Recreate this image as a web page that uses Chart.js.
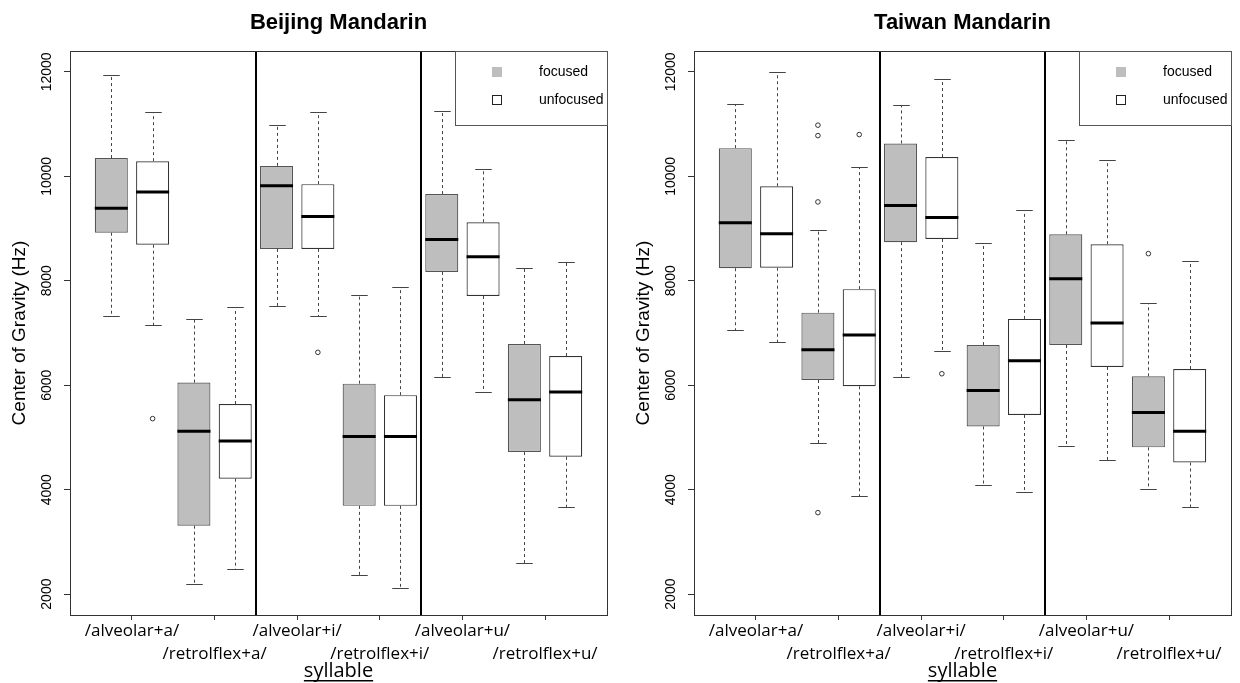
<!DOCTYPE html>
<html>
<head>
<meta charset="utf-8">
<script src="https://cdn.jsdelivr.net/npm/chart.js@4.4.1/dist/chart.umd.min.js"></script>
<style>
  html, body { margin: 0; padding: 0; background: #fff; }
  #wrap { position: relative; width: 1240px; height: 683px; }
  canvas { position: absolute; top: 0; }
</style>
</head>
<body>
<div id="wrap">
  <canvas id="bjChart" width="620" height="683" style="left:0"></canvas>
  <canvas id="twChart" width="620" height="683" style="left:620px"></canvas>
</div>
<script>
// categories
const syllables = ['/alveolar+a/', '/retrolflex+a/', '/alveolar+i/', '/retrolflex+i/', '/alveolar+u/', '/retrolflex+u/'];
const conditions = ['focused', 'unfocused'];
const yTicks = [2000, 4000, 6000, 8000, 10000, 12000];

// Beijing Mandarin, box order: syllable 1 focused, syllable 1 unfocused, syllable 2 focused ...
const bjLow  = [7320, 7150, 2200, 2480, 7520, 7330, 2360, 2110, 6160, 5870, 2600, 3670];
const bjQ1   = [8920, 8690, 3310, 4210, 8610, 8610, 3690, 3690, 8170, 7710, 4720, 4630];
const bjMed  = [9390, 9700, 5120, 4930, 9820, 9230, 5020, 5020, 8790, 8460, 5720, 5870];
const bjQ3   = [10350, 10290, 6050, 5640, 10200, 9850, 6030, 5810, 9660, 9120, 6790, 6560];
const bjHigh = [11940, 11240, 7270, 7500, 10980, 11240, 7720, 7890, 11260, 10150, 8240, 8360];
const bjOut  = [[], [5360], [], [], [], [6630], [], [], [], [], [], []];

// Taiwan Mandarin
const twLow  = [7050, 6820, 4890, 3880, 6150, 6660, 4080, 3950, 4830, 4570, 4010, 3670];
const twQ1   = [8240, 8250, 6100, 5980, 8740, 8800, 5210, 5430, 6770, 6350, 4810, 4520];
const twMed  = [9110, 8900, 6680, 6960, 9440, 9210, 5900, 6470, 8040, 7190, 5480, 5120];
const twQ3   = [10540, 9810, 7390, 7840, 10630, 10370, 6770, 7270, 8890, 8700, 6170, 6310];
const twHigh = [11390, 11990, 8980, 10180, 11370, 11870, 8730, 9350, 10700, 10320, 7580, 8380];
const twOut  = [[], [], [10980, 10780, 9510, 3560], [10800], [], [6220], [], [], [], [], [8520], []];

const FOCUS_FILL = '#bebebe';
const LINE = '#444444';
const ARIAL = "'Liberation Sans', Arial, sans-serif";
const LABEL_FONT = "'Open Sans', 'Noto Sans', sans-serif";

// box i sits at x = i + 1 (two boxes per syllable)
const boxPos = syllables.flatMap((s, si) => conditions.map((c, ci) => si * 2 + ci + 1));
const labelPos = syllables.map((s, si) => si * 2 + 1.5);
// vertical separators between vowel groups (/a/, /i/, /u/), four boxes each
const groupBreaks = [1, 2].map(g => g * 4 + 0.5);

const boxPlugin = {
    id: 'boxDetails',
    afterDatasetsDraw(chart, args, opts) {
        const { ctx } = chart;
        const x = chart.scales.x, y = chart.scales.y;
        const s = opts.stats;
        ctx.save();
        boxPos.forEach((p, i) => {
            const bar = chart.getDatasetMeta(i % 2).data[Math.floor(i / 2)];
            const w = bar.width;
            const cx = Math.round(x.getPixelForValue(p)) + 0.5;
            const yLow = Math.round(y.getPixelForValue(s.low[i])) + 0.5;
            const yHigh = Math.round(y.getPixelForValue(s.high[i])) + 0.5;
            const yQ1 = y.getPixelForValue(s.q1[i]);
            const yQ3 = y.getPixelForValue(s.q3[i]);
            const yMed = y.getPixelForValue(s.med[i]);

            // dashed whiskers
            ctx.strokeStyle = LINE;
            ctx.lineWidth = 1;
            ctx.setLineDash([3, 3]);
            ctx.beginPath();
            ctx.moveTo(cx, yQ3); ctx.lineTo(cx, yHigh);
            ctx.moveTo(cx, yQ1); ctx.lineTo(cx, yLow);
            ctx.stroke();

            // staples
            ctx.setLineDash([]);
            ctx.beginPath();
            ctx.moveTo(cx - w / 4, yHigh); ctx.lineTo(cx + w / 4, yHigh);
            ctx.moveTo(cx - w / 4, yLow); ctx.lineTo(cx + w / 4, yLow);
            ctx.stroke();

            // median
            ctx.strokeStyle = '#000';
            ctx.lineWidth = 3;
            ctx.beginPath();
            ctx.moveTo(bar.x - w / 2, yMed); ctx.lineTo(bar.x + w / 2, yMed);
            ctx.stroke();
        });
        ctx.restore();
    },
    afterDraw(chart) {
        const { ctx, chartArea: a } = chart;
        const x = chart.scales.x, y = chart.scales.y;
        ctx.save();

        // group separators
        ctx.strokeStyle = '#000';
        ctx.lineWidth = 2;
        ctx.beginPath();
        groupBreaks.forEach(b => {
            const px = Math.round(x.getPixelForValue(b));
            ctx.moveTo(px, a.top); ctx.lineTo(px, a.bottom);
        });
        ctx.stroke();

        // frame
        ctx.strokeStyle = '#333';
        ctx.lineWidth = 1;
        ctx.strokeRect(a.left + 0.5, a.top + 0.5, a.right - a.left, a.bottom - a.top);

        // legend, top right inside the plot
        const lw = 152, lh = 74;
        const lx = a.right - lw, ly = a.top;
        ctx.fillStyle = '#fff';
        ctx.fillRect(lx, ly, lw, lh);
        ctx.strokeStyle = '#555';
        ctx.strokeRect(lx + 0.5, ly + 0.5, lw, lh);
        ctx.font = '14px ' + ARIAL;
        ctx.textBaseline = 'middle';
        ctx.textAlign = 'left';
        [FOCUS_FILL, '#fff'].forEach((fill, k) => {
            const cy = ly + 21 + k * 28;
            ctx.fillStyle = fill;
            ctx.fillRect(a.right - 115, cy - 5, 10, 10);
            if (k === 1) {
                ctx.strokeStyle = '#222';
                ctx.strokeRect(a.right - 114.5, cy - 4.5, 9, 9);
            }
            ctx.fillStyle = '#000';
            ctx.fillText(conditions[k], a.right - 68, cy);
        });

        // rotated y tick labels
        ctx.font = '14px ' + ARIAL;
        ctx.textAlign = 'center';
        ctx.textBaseline = 'middle';
        ctx.fillStyle = '#000';
        yTicks.forEach(v => {
            ctx.save();
            ctx.translate(a.left - 23, y.getPixelForValue(v));
            ctx.rotate(-Math.PI / 2);
            ctx.fillText(String(v), 0, 0);
            ctx.restore();
        });

        // underline for the x axis title
        ctx.font = '20px ' + LABEL_FONT;
        const tw = ctx.measureText('syllable').width;
        const tx = (x.left + x.right) / 2;
        ctx.fillRect(tx - tw / 2, 680, tw, 1.5);
        ctx.restore();
    }
};

function makeChart(id, title, s, axisWidth, padRight) {
    const bars = conditions.map((c, ci) => ({
        type: 'bar',
        label: c,
        grouped: false,
        data: boxPos.map((p, i) => ({ x: p, y: [s.q1[i], s.q3[i]] })).filter((d, i) => i % 2 === ci),
        backgroundColor: ci === 0 ? FOCUS_FILL : '#ffffff',
        borderColor: ci === 0 ? '#555' : '#333',
        borderWidth: 1.2,
        borderSkipped: false,
        barPercentage: 0.8,
        categoryPercentage: 1.0
    }));
    const outliers = {
        type: 'scatter',
        label: 'outliers',
        data: s.out.flatMap((vals, i) => vals.map(v => ({ x: boxPos[i], y: v }))),
        pointStyle: 'circle',
        radius: 2.3,
        backgroundColor: '#fff',
        borderColor: '#333',
        borderWidth: 1
    };

    new Chart(document.getElementById(id), {
        data: { datasets: [...bars, outliers] },
        options: {
            responsive: false,
            animation: false,
            devicePixelRatio: 1,
            layout: { padding: { left: 0, right: padRight, top: 0, bottom: 0 } },
            plugins: {
                legend: { display: false },
                tooltip: { enabled: false },
                title: {
                    display: true,
                    text: title,
                    fullSize: false,
                    color: '#000',
                    font: { family: ARIAL, size: 22, weight: 'bold', lineHeight: 1.2 },
                    padding: { top: 10, bottom: 14.6 }
                },
                boxDetails: { stats: s }
            },
            scales: {
                x: {
                    type: 'linear',
                    offset: false,
                    min: 0,
                    max: boxPos.length + 1,
                    afterBuildTicks: sc => { sc.ticks = labelPos.map(v => ({ value: v })); },
                    afterFit: sc => { sc.height = 68; },
                    grid: { display: true, drawOnChartArea: false, drawTicks: true, tickLength: 5, color: '#333', offset: false },
                    border: { display: false },
                    ticks: {
                        autoSkip: false,
                        maxRotation: 0,
                        minRotation: 0,
                        padding: 0,
                        color: '#000',
                        font: { family: LABEL_FONT, size: 17, lineHeight: 1.35 },
                        callback: (v, i) => i % 2 === 0 ? [syllables[i]] : ['', syllables[i]]
                    },
                    title: {
                        display: true,
                        text: 'syllable',
                        color: '#000',
                        font: { family: LABEL_FONT, size: 20, lineHeight: 1.2 },
                        padding: { top: 0, bottom: 0 }
                    }
                },
                y: {
                    min: 1600,
                    max: 12400,
                    afterBuildTicks: sc => { sc.ticks = yTicks.map(v => ({ value: v })); },
                    afterFit: sc => { sc.width = axisWidth; },
                    grid: { display: true, drawOnChartArea: false, drawTicks: true, tickLength: 6, color: '#333' },
                    border: { display: false },
                    ticks: { display: false },
                    title: {
                        display: true,
                        text: 'Center of Gravity (Hz)',
                        color: '#000',
                        font: { family: ARIAL, size: 19, lineHeight: 1.2 },
                        padding: { top: axisWidth - 50 - 11.4, bottom: 0 }
                    }
                }
            }
        },
        plugins: [boxPlugin]
    });
}

makeChart('bjChart', 'Beijing Mandarin',
    { low: bjLow, q1: bjQ1, med: bjMed, q3: bjQ3, high: bjHigh, out: bjOut }, 70, 13);
makeChart('twChart', 'Taiwan Mandarin',
    { low: twLow, q1: twQ1, med: twMed, q3: twQ3, high: twHigh, out: twOut }, 74, 9);
</script>
</body>
</html>
